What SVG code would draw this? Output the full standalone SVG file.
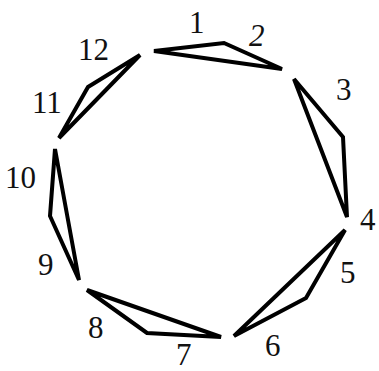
<svg xmlns="http://www.w3.org/2000/svg" width="379" height="371" viewBox="0 0 379 371">
<style>
.t{fill:none;stroke:#000;stroke-width:4;stroke-linejoin:miter}
</style>
<rect width="379" height="371" fill="#fff"/>
<g id="connectors">
<polygon class="t" points="154,51 224,43 282,69"/>
<polygon class="t" points="294,79 343,137 347,217"/>
<polygon class="t" points="345,230 306,298 234,336"/>
<polygon class="t" points="87,290 147,333 221,337"/>
<polygon class="t" points="55,149 50,216 79,280"/>
<polygon class="t" points="59,138 88,87 140,55"/>
</g>
<g font-family="Liberation Serif, DejaVu Serif, serif" font-size="31" fill="#111">
<g id="n1"><text x="189" y="33">1</text></g>
<g id="n2"><text x="249" y="46" font-style="italic">2</text></g>
<g id="n3"><text x="336" y="100">3</text></g>
<g id="n4"><text x="360" y="230">4</text></g>
<g id="n5"><text x="340" y="283">5</text></g>
<g id="n6"><text x="265" y="356">6</text></g>
<g id="n7"><text x="176" y="365">7</text></g>
<g id="n8"><text x="88" y="338">8</text></g>
<g id="n9"><text x="38" y="275">9</text></g>
<g id="n10"><text x="5" y="188">10</text></g>
<g id="n11"><text x="32" y="113">11</text></g>
<g id="n12"><text x="78" y="60">12</text></g>
</g>
</svg>
